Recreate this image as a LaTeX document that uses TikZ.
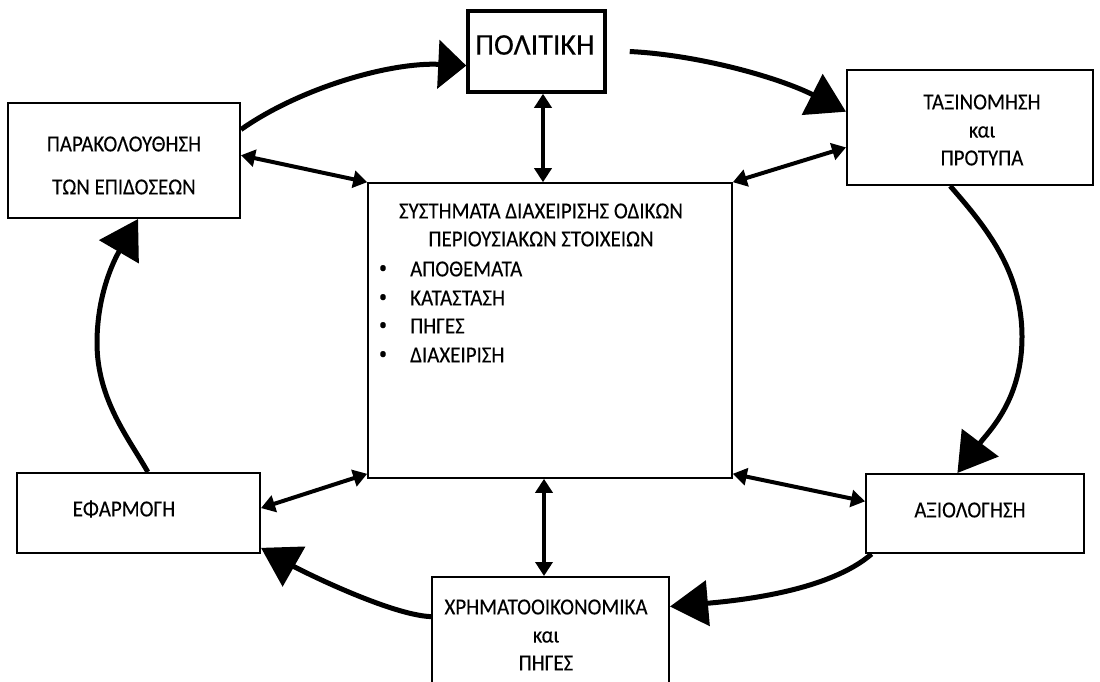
\documentclass[tikz,border=0pt]{standalone}
\usepackage{fontspec}
\setmainfont{Carlito}[FakeStretch=0.91,FakeBold=0.15]
\newfontfamily\titlefont{Carlito}[FakeBold=0.15]
\usetikzlibrary{arrows.meta,calc}

\begin{document}
\begin{tikzpicture}[x=1pt,y=-1pt,
  box/.style={draw=black,line width=2pt,rectangle,inner sep=0pt,fill=white},
  lbl/.style={font=\fontsize{23}{27}\selectfont,inner sep=0pt,anchor=center},
  item/.style={font=\fontsize{23}{27}\selectfont,inner sep=0pt,anchor=west},
  dot/.style={font=\fontsize{17}{20}\selectfont,inner sep=0pt,anchor=center},
  flow/.style={line width=5pt,-{Triangle[length=38pt,width=45pt]}},
  link/.style={line width=4pt,{Triangle[length=14pt,width=17pt]}-{Triangle[length=14pt,width=17pt]}}]
\useasboundingbox (0,0) rectangle (1100,681);

% boxes
\node[box,line width=3.5pt,minimum width=137pt,minimum height=81pt] (polit) at (536.5,51.5) {};
\node[box,minimum width=232pt,minimum height=115pt] (parak) at (124,160.5) {};
\node[box,minimum width=246pt,minimum height=115pt] (taxin) at (970,127.5) {};
\node[box,line width=1.6pt,minimum width=364pt,minimum height=295pt] (sys) at (550,330.5) {};
\node[box,minimum width=243pt,minimum height=80pt] (efarm) at (138.5,513) {};
\node[box,minimum width=218pt,minimum height=79pt] (axiol) at (975,513.5) {};
\node[box,minimum width=237pt,minimum height=123pt] (chrim) at (550.5,638.5) {};

% texts
\node[lbl,font=\titlefont\fontsize{30}{34}\selectfont] (politT) at (535,45) {ΠΟΛΙΤΙΚΗ};
\node[lbl] (parakT1) at (124,144) {ΠΑΡΑΚΟΛΟΥΘΗΣΗ};
\node[lbl] (parakT2) at (124,187) {ΤΩΝ ΕΠΙΔΟΣΕΩΝ};
\node[lbl] (taxinT1) at (982,102) {ΤΑΞΙΝΟΜΗΣΗ};
\node[lbl] (taxinT2) at (982,132) {και};
\node[lbl] (taxinT3) at (982,158) {ΠΡΟΤΥΠΑ};
\node[lbl] (sysT1) at (541,211) {ΣΥΣΤΗΜΑΤΑ ΔΙΑΧΕΙΡΙΣΗΣ ΟΔΙΚΩΝ};
\node[lbl] (sysT2) at (541,239) {ΠΕΡΙΟΥΣΙΑΚΩΝ ΣΤΟΙΧΕΙΩΝ};
\foreach \t/\yy [count=\i] in {ΑΠΟΘΕΜΑΤΑ/269,ΚΑΤΑΣΤΑΣΗ/298,ΠΗΓΕΣ/326,ΔΙΑΧΕΙΡΙΣΗ/355}{
  \node[dot] (bul\i) at (383,\yy) {•};
  \node[item] (itm\i) at (410,\yy) {\t};
}
\node[lbl] (efarmT) at (124,509) {ΕΦΑΡΜΟΓΗ};
\node[lbl] (axiolT) at (970,510) {ΑΞΙΟΛΟΓΗΣΗ};
\node[lbl] (chrimT1) at (546,607) {ΧΡΗΜΑΤΟΟΙΚΟΝΟΜΙΚΑ};
\node[lbl] (chrimT2) at (546,637) {και};
\node[lbl] (chrimT3) at (546,663) {ΠΗΓΕΣ};

% outer cycle
\draw[flow,-{Triangle[length=28pt,width=48pt]}] ($(parak.north east)!0.235!(parak.south east)$)
  .. controls (300,88) and (390,62) .. ($(polit.north west)!0.667!(polit.south west)$);
\draw[flow] ([xshift=23pt]polit.east)
  .. controls (700,55) and (780,78) .. ($(taxin.north west)!0.365!(taxin.south west)$);
\draw[flow] ($(taxin.south west)!0.42!(taxin.south east)$)
  .. controls (985,226) and (1022,270) .. (1022,337)
  .. controls (1022,400) and (989,431) .. ($(axiol.north west)!0.42!(axiol.north east)$);
\draw[flow] ($(axiol.south west)!0.03!(axiol.south east)$)
  .. controls (830,590) and (745,600) .. ($(chrim.north east)!0.244!(chrim.south east)$);
\draw[flow] ($(chrim.north west)!0.325!(chrim.south west)$)
  .. controls (390,615) and (300,570) .. ($(efarm.north east)!0.925!(efarm.south east)$);
\draw[flow] ($(efarm.north west)!0.538!(efarm.north east)$)
  .. controls (130,440) and (97,400) .. (97,343)
  .. controls (97,290) and (117,255) .. ($(parak.south west)!0.56!(parak.south east)$);

% links to the central system
\coordinate (sysN) at ([xshift=-7pt]sys.north);
\coordinate (sysS) at ([xshift=-6pt]sys.south);
\draw[link] ($(parak.north east)!0.455!(parak.south east)$) -- (sys.north west);
\draw[link] (sysN |- polit.south) -- (sysN);
\draw[link] ($(taxin.north west)!0.67!(taxin.south west)$) -- (sys.north east);
\draw[link] ($(efarm.north east)!0.44!(efarm.south east)$) -- ([yshift=5pt]sys.south west);
\draw[link] (sysS) -- (sysS |- chrim.north);
\draw[link] ([yshift=5pt]sys.south east) -- ($(axiol.north west)!0.35!(axiol.south west)$);
\end{tikzpicture}
\end{document}
